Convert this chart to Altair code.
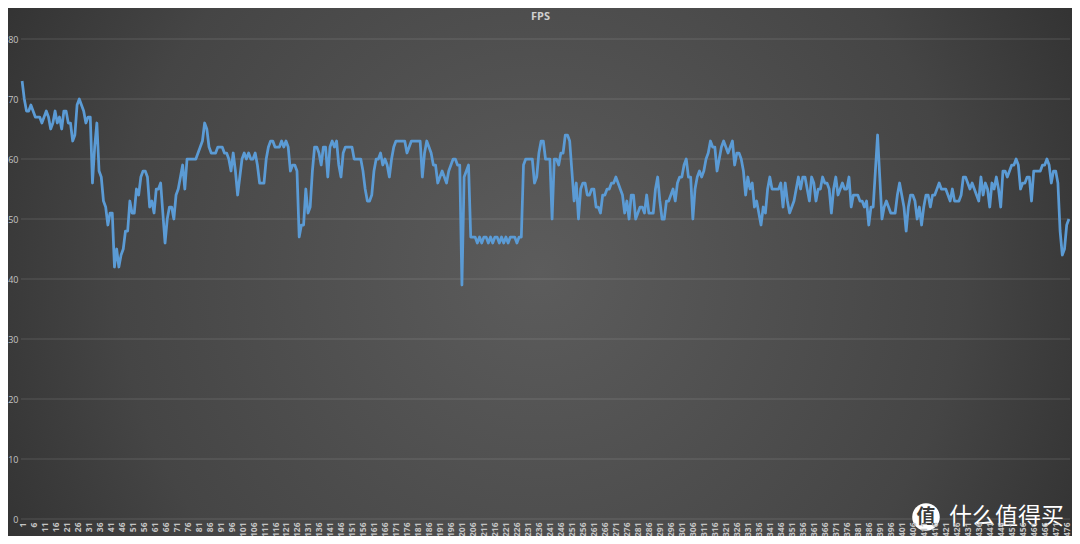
import altair as alt
import pandas as pd

# FPS values, one per frame sample (1..477)
fps_1_46 = [73,70,68,68,69,68,67,67,67,66,67,68,67,65,66,68,66,67,65,68,68,66,66,63,64,69,70,69,68,66,67,67,56,62,66,58,57,53,52,49,51,51,42,45,42,44]
fps_47_95 = [45,48,48,53,51,51,55,54,57,58,58,57,52,53,51,55,55,56,51,46,50,52,52,50,54,55,57,59,55,60,60,60,60,60,61,62,63,66,65,62,61,61,61,62,62,62,61,61,60]
fps_96_143 = [58,61,58,54,57,60,61,60,61,60,60,61,59,56,56,56,60,62,63,63,62,62,62,63,62,63,62,58,59,59,58,47,49,49,55,51,52,58,62,62,61,59,62,62,57,62,63,62]
fps_144_190 = [63,59,57,61,62,62,62,62,60,60,60,60,58,55,53,53,54,58,60,60,61,59,60,59,57,60,62,63,63,63,63,63,61,62,63,63,63,63,63,57,61,63,62,61,59,59,56]
fps_191_238 = [57,58,57,56,58,59,60,60,59,59,39,57,58,59,47,47,47,46,47,46,47,47,46,47,46,47,47,46,47,46,47,46,47,47,47,46,47,47,59,60,60,60,60,56,57,61,63,63]
fps_239_286 = [60,60,60,50,60,60,59,61,61,64,64,63,58,53,56,50,55,56,56,54,54,55,55,52,52,51,54,54,55,55,56,56,57,56,55,54,51,53,50,54,54,50,51,52,52,51,54,51]
fps_287_333 = [51,51,55,57,53,50,50,53,53,54,55,53,56,57,57,59,60,57,57,50,55,57,58,57,58,60,61,63,62,62,58,60,62,63,62,61,62,63,59,61,61,60,58,54,57,55,56]
fps_334_381 = [52,53,51,49,52,51,55,57,55,55,55,55,56,52,56,53,51,52,53,55,57,55,57,57,55,53,57,56,53,55,55,57,56,56,55,51,55,57,54,55,56,55,55,57,52,54,54,54]
fps_382_429 = [53,53,52,53,49,52,52,58,64,57,50,52,53,52,51,51,51,54,56,54,52,48,52,54,54,53,50,52,49,52,54,54,52,54,54,55,56,55,55,55,54,53,55,53,53,53,54,57]
fps_430_477 = [57,56,55,56,55,54,53,57,54,56,55,52,56,55,57,55,52,58,58,57,58,59,59,60,59,55,56,56,57,57,53,58,58,58,58,59,59,60,59,56,58,58,56,48,44,45,49,50]

fps = (fps_1_46 + fps_47_95 + fps_96_143 + fps_144_190 + fps_191_238 +
       fps_239_286 + fps_287_333 + fps_334_381 + fps_382_429 + fps_430_477)
frames = list(range(1, len(fps) + 1))
x_tick_values = list(range(1, len(fps) + 1, 5))
y_tick_values = [0, 10, 20, 30, 40, 50, 60, 70, 80]

df = pd.DataFrame({"frame": frames, "fps": fps})
grid_df = pd.DataFrame({"v": y_tick_values})

W, H = 1049, 480
PAD = {"left": 13, "top": 31, "right": 2, "bottom": 17}

x_scale = alt.Scale(domain=[0.5, len(fps) + 0.5], nice=False, zero=False)
y_scale = alt.Scale(domain=[0, 80], nice=False)

bg = alt.Chart(pd.DataFrame({"a": [0]})).mark_rect(
    color={
        "gradient": "radial",
        "x1": 0.5, "y1": 0.5, "r1": 0,
        "x2": 0.5, "y2": 0.5, "r2": 0.72,
        "stops": [
            {"offset": 0, "color": "#5c5c5c"},
            {"offset": 0.55, "color": "#454545"},
            {"offset": 1, "color": "#222222"},
        ],
    }
).encode(
    x=alt.value(-PAD["left"]), x2=alt.value(W + PAD["right"]),
    y=alt.value(-PAD["top"]), y2=alt.value(H + PAD["bottom"]),
)

grid = alt.Chart(grid_df).mark_rule(color="#ffffff", opacity=0.14, strokeWidth=1).encode(
    y=alt.Y("v:Q", scale=y_scale),
    x=alt.value(0), x2=alt.value(W),
)

line = alt.Chart(df).mark_line(color="#5B9BD5", strokeWidth=2.75, strokeJoin="round").encode(
    x=alt.X("frame:Q", scale=x_scale,
            axis=alt.Axis(values=x_tick_values, labelAngle=-90, labelOverlap=False,
                          labelFontSize=8.5, labelColor="#c4c4c4", labelFont="Open Sans",
                          labelFontWeight="bold", labelPadding=3, domain=False,
                          ticks=False, grid=False, title=None, labelFlush=False,
                          zindex=2)),
    y=alt.Y("fps:Q", scale=y_scale,
            axis=alt.Axis(values=y_tick_values, labelFontSize=9, labelColor="#c4c4c4",
                          labelFont="Open Sans", labelPadding=3, domain=False, ticks=False,
                          grid=False, title=None, zindex=2)),
)

logo = alt.Chart(pd.DataFrame({"a": [0]})).mark_circle(color="#ffffff", opacity=1, size=760).encode(
    x=alt.value(905), y=alt.value(478)
)
logo_char = alt.Chart(pd.DataFrame({"t": ["值"]})).mark_text(
    font="Noto Sans CJK SC", fontSize=19, fontWeight="bold", color="#3a3a3a",
    align="center", baseline="middle"
).encode(x=alt.value(905), y=alt.value(478), text="t:N")
brand = alt.Chart(pd.DataFrame({"t": ["什么值得买"]})).mark_text(
    font="Noto Sans CJK SC", fontSize=23, color="#ffffff", align="left", baseline="middle"
).encode(x=alt.value(928), y=alt.value(478), text="t:N")

chart = alt.layer(bg, grid, line, logo, logo_char, brand).properties(
    width=W, height=H,
    title=alt.Title("FPS", fontSize=11, color="#d0d0d0", font="Open Sans",
                    fontWeight="bold", anchor="middle", offset=-14, dx=-5, zindex=2),
    autosize=alt.AutoSizeParams(type="none"),
    padding=PAD,
    background="#2b2b2b",
).configure_view(stroke=None)

chart.save("out.html", embed_options={"renderer": "svg", "actions": False})
